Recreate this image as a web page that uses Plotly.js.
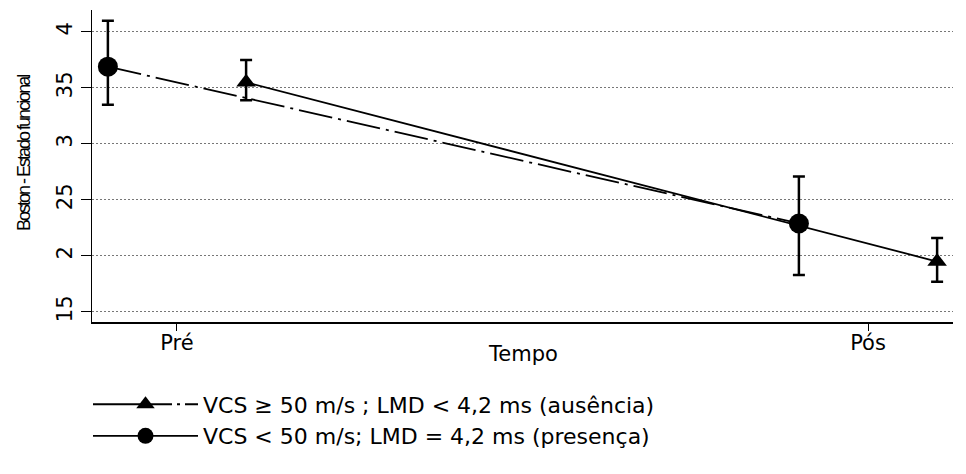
<!DOCTYPE html>
<html>
<head>
<meta charset="utf-8">
<script src="https://cdn.plot.ly/plotly-3.0.1.min.js"></script>
<style>
  html, body { margin: 0; padding: 0; background: #fff; }
  #chart { width: 966px; height: 474px; }
  /* the rotated y title is set tight, as in a condensed face */
  .annotation[data-index="1"] text { letter-spacing: -2px; }
</style>
</head>
<body>
<div id="chart"></div>
<script>
// Time points
const periods = ['Pré', 'Pós'];

// Group names
const nameAusencia = 'VCS \u2265 50 m/s ; LMD &lt; 4,2 ms (ausência)';
const namePresenca = 'VCS &lt; 50 m/s; LMD = 4,2 ms (presença)';

// Boston functional status: mean with upper / lower interval limits
const ausenciaMean  = [3.55, 1.95];
const ausenciaUpper = [3.75, 2.16];
const ausenciaLower = [3.39, 1.77];

const presencaMean  = [3.69, 2.29];
const presencaUpper = [4.10, 2.71];
const presencaLower = [3.35, 1.83];

// Y axis ticks
const yTickVals = [1.5, 2, 2.5, 3, 3.5, 4];
const yTickText = ['15', '2', '25', '3', '35', '4'];

// ---- drawing ----
const DODGE = 0.1;                       // horizontal shift between the two groups
const xAus = periods.map((_, i) => i + DODGE);
const xPre = periods.map((_, i) => i - DODGE);
const plus  = (up, m) => up.map((u, i) => u - m[i]);
const minus = (lo, m) => lo.map((l, i) => m[i] - l);
// marker traces keep a gap between the two points so only the legend shows their line
const gap = a => [a[0], null, a[1]];

const ink = '#000';
const FONT = '"DejaVu Sans", Verdana, sans-serif';
const TITLE_FONT = '"Liberation Sans", Arial, Helvetica, sans-serif';

const traces = [
  // connecting lines
  { x: xAus, y: ausenciaMean, mode: 'lines', showlegend: false, hoverinfo: 'skip',
    line: { color: ink, width: 1.8 } },
  { x: xPre, y: presencaMean, mode: 'lines', showlegend: false, hoverinfo: 'skip',
    line: { color: ink, width: 1.8, dash: '34px,6px,3px,6px' } },
  // markers with interval bars
  { x: gap(xAus), y: gap(ausenciaMean), name: nameAusencia, mode: 'lines+markers',
    connectgaps: false,
    line: { color: ink, width: 1.8, dash: '79px,5px,3px,5px' },
    marker: { symbol: 'triangle-up', size: 17, color: ink },
    error_y: { type: 'data', symmetric: false,
      array: gap(plus(ausenciaUpper, ausenciaMean)),
      arrayminus: gap(minus(ausenciaLower, ausenciaMean)),
      color: ink, thickness: 2.5, width: 6 } },
  { x: gap(xPre), y: gap(presencaMean), name: namePresenca, mode: 'lines+markers',
    connectgaps: false,
    line: { color: ink, width: 1.8 },
    marker: { symbol: 'circle', size: 20, color: ink },
    error_y: { type: 'data', symmetric: false,
      array: gap(plus(presencaUpper, presencaMean)),
      arrayminus: gap(minus(presencaLower, presencaMean)),
      color: ink, thickness: 2.5, width: 6 } }
];

const layout = {
  width: 966, height: 474,
  margin: { l: 92, r: 13, t: 10, b: 152 },
  paper_bgcolor: '#fff', plot_bgcolor: '#fff',
  font: { family: FONT, size: 21, color: ink },
  xaxis: {
    range: [-0.123, 1.123], tickvals: [0, 1], ticktext: periods,
    ticks: 'outside', ticklen: 7, tickwidth: 1, tickcolor: ink,
    ticklabelstandoff: -6,
    showline: true, linecolor: ink, linewidth: 1.5,
    showgrid: false, zeroline: false, tickfont: { size: 21 }
  },
  yaxis: {
    range: [1.41, 4.196], tickvals: yTickVals, ticktext: yTickText, tickangle: -90,
    ticks: 'outside', ticklen: 10, tickwidth: 1, tickcolor: ink,
    showline: true, linecolor: ink, linewidth: 1.5,
    showgrid: true, gridcolor: '#777', gridwidth: 1, griddash: '2px,2px',
    zeroline: false, tickfont: { size: 21 }
  },
  showlegend: true,
  legend: {
    x: -4 / 861, y: -0.197, xanchor: 'left', yanchor: 'top',
    itemwidth: 105, font: { size: 22 }, bgcolor: 'rgba(0,0,0,0)',
    traceorder: 'normal'
  },
  annotations: [
    { text: 'Tempo', xref: 'paper', yref: 'paper', x: 0.5, y: -0.1026,
      xanchor: 'center', yanchor: 'middle', showarrow: false, font: { size: 21 } },
    { text: 'Boston - Estado funcional', xref: 'paper', yref: 'paper', x: -0.079, y: 0.5417,
      xanchor: 'center', yanchor: 'middle', textangle: -90, showarrow: false,
      font: { family: TITLE_FONT, size: 18 } }
  ]
};

Plotly.newPlot('chart', traces, layout, { displayModeBar: false, staticPlot: true });
</script>
</body>
</html>
